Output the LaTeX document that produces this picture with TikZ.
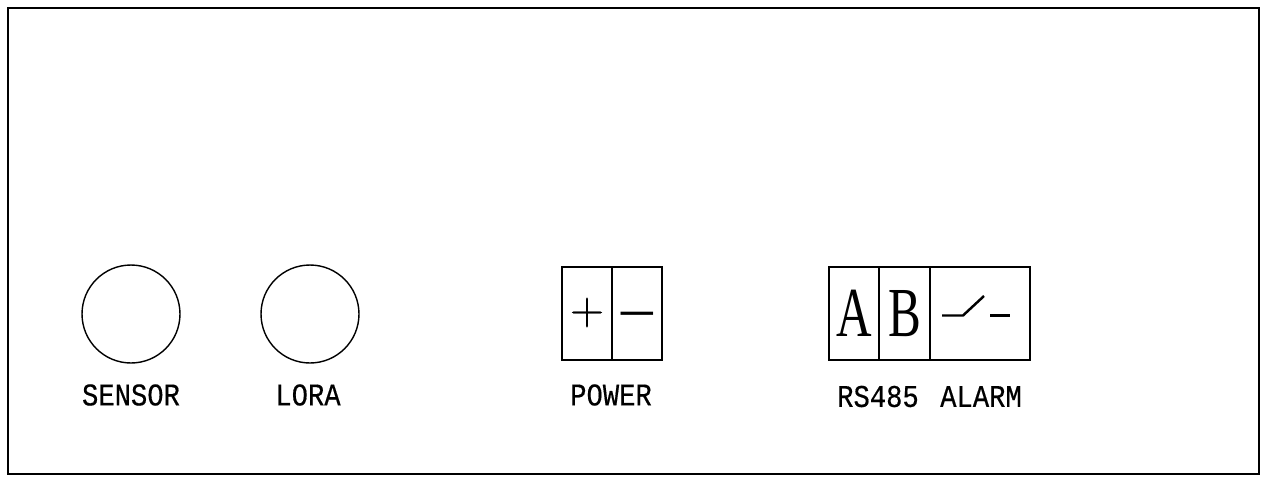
\documentclass[tikz,border=0pt]{standalone}
\usepackage{fontspec}
\newfontfamily\labelfont[FakeStretch=0.86,FakeBold=0.4]{Liberation Mono}
\newfontfamily\cellfont[FakeStretch=0.7]{Liberation Serif}
\newfontfamily\signfont{Liberation Serif}
\newfontfamily\plusfont[FakeBold=0.5]{Latin Modern Roman}
\tikzset{
	port/.style={draw,circle,line width=0.8pt,minimum size=1.96cm,inner sep=0pt},
	cell/.style={draw,rectangle,line width=0.8pt,minimum width=1cm,minimum height=1.86cm,inner sep=0pt},
	wide cell/.style={cell,minimum width=2cm},
	letter/.style={cell,font=\cellfont\fontsize{40}{40}\selectfont},
	plus sign/.style={inner sep=0pt,font=\plusfont\fontsize{27}{27}\selectfont},
	minus sign/.style={inner sep=0pt,font=\signfont\fontsize{36}{36}\selectfont},
	caption/.style={font=\labelfont\fontsize{18}{18}\selectfont,inner sep=0pt},
	contact/.style={line width=1.4pt}
}
\begin{document}
\begin{tikzpicture}[x=0.02cm,y=-0.02cm]
	\useasboundingbox (0,0) rectangle (1265,491);
	\node[draw,rectangle,line width=0.8pt,minimum width=25.02cm,minimum height=9.32cm,inner sep=0pt] (panel) at (633.5,241) {};
	% round connectors
	\node[port] (sensor) at (131,314) {};
	\node[port] (lora) at (310,314) {};
	\node[caption] (sensor label) at (131,395) {SENSOR};
	\node[caption] (lora label) at (308,395) {LORA};
	% power terminal
	\node[cell] (plus) at (587,313.5) {};
	\node[cell] (minus) at (637,313.5) {};
	\node[plus sign] (plus mark) at (587,312.5) {+};
	\node[minus sign] (minus mark) at (637,320) {–};
	\node[caption] (power label) at (611,395) {POWER};
	% rs485 and alarm terminal
	\node[letter] (a) at (854,313.5) {A};
	\node[letter] (b) at (904.5,313.5) {B};
	\node[wide cell] (alarm) at (980,313.5) {};
	\node[caption] (rs485 label) at (878,396.5) {RS485};
	\node[caption] (alarm label) at (981,396.5) {ALARM};
	% switch symbol
	\coordinate (s1) at (942,315.5);
	\coordinate (s2) at (963,315.5);
	\coordinate (s3) at (984,296);
	\coordinate (s4) at (990,315.5);
	\coordinate (s5) at (1010,315.5);
	\draw[contact] (s1) -- (s2) -- (s3);
	\draw[contact] (s4) -- (s5);
\end{tikzpicture}
\end{document}
